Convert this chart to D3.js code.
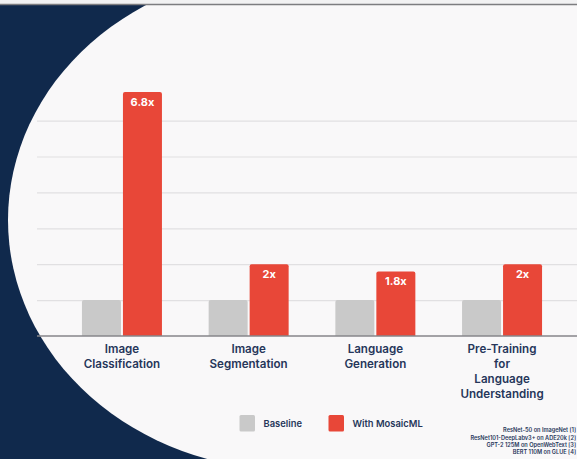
<!DOCTYPE html>
<html>
<head>
<meta charset="utf-8">
<script src="https://cdn.jsdelivr.net/npm/d3@7"></script>
<style>
  html, body { margin: 0; padding: 0; background: #10294c; }
  svg { display: block; }
  text { font-family: Inter, "Open Sans", sans-serif; }
</style>
</head>
<body>
<svg id="chart" width="577" height="459"></svg>
<script>
// Speed-up per workload: baseline vs. MosaicML
const categories = [
  "Image Classification",
  "Image Segmentation",
  "Language Generation",
  "Pre-Training for Language Understanding"
];
const categoryLines = [
  ["Image", "Classification"],
  ["Image", "Segmentation"],
  ["Language", "Generation"],
  ["Pre-Training", "for", "Language", "Understanding"]
];
const seriesNames = ["Baseline", "With MosaicML"];
const baselineValues = [1, 1, 1, 1];
const mosaicValues = [6.8, 2, 1.8, 2];
const valueLabels = ["6.8x", "2x", "1.8x", "2x"];
const gridTicks = [1, 2, 3, 4, 5, 6];
const footnotes = [
  "ResNet-50 on ImageNet [1]",
  "ResNet101-DeepLabv3+ on ADE20k [2]",
  "GPT-2 125M on OpenWebText [3]",
  "BERT 110M on GLUE [4]"
];

const W = 577, H = 459;
const colors = { "Baseline": "#c9c9c9", "With MosaicML": "#e84738" };
const navy = "#10294c", paper = "#f9f8f9", ink = "#26365a";

const svg = d3.select("#chart");

// backdrop: navy panel with a large rounded white sheet over it
svg.append("rect").attr("width", W).attr("height", H).attr("fill", navy);
const ecx = 290, ecy = 220, erx = 282, ery = 250;
svg.append("ellipse")
  .attr("cx", ecx).attr("cy", ecy).attr("rx", erx).attr("ry", ery)
  .attr("fill", paper);
svg.append("rect")
  .attr("x", ecx).attr("y", 0).attr("width", W - ecx).attr("height", H)
  .attr("fill", paper);

// thin strip along the top edge
svg.append("rect").attr("x", 0).attr("y", 0).attr("width", W).attr("height", 4)
  .attr("fill", "#f2f2f3");
svg.append("line").attr("x1", 0).attr("x2", W).attr("y1", 4.5).attr("y2", 4.5)
  .attr("stroke", "#7d7d80").attr("stroke-width", 1.6);

// scales
const plotLeft = 37, plotRight = W;
const x0 = d3.scaleBand().domain(categories).range([58.6, 565.4]).padding(0);
const x1 = d3.scaleBand().domain(seriesNames).range([0, 80]).paddingInner(2 / 41).paddingOuter(0);
const y = d3.scaleLinear().domain([0, 7]).range([336, 84.7]);

// horizontal gridlines
const grid = svg.append("g")
  .attr("transform", `translate(${plotLeft},0)`)
  .call(d3.axisRight(y).tickValues(gridTicks).tickSize(plotRight - plotLeft).tickFormat(""));
grid.select(".domain").remove();
grid.selectAll(".tick line").attr("stroke", "#e1e0e2").attr("stroke-width", 1.2);

// bars
const rows = categories.map((c, i) => ({
  cat: c,
  values: [
    { series: "Baseline", value: baselineValues[i] },
    { series: "With MosaicML", value: mosaicValues[i], label: valueLabels[i] }
  ]
}));

function topRounded(x, yTop, w, h, r) {
  return `M${x},${yTop + h}V${yTop + r}Q${x},${yTop} ${x + r},${yTop}` +
         `H${x + w - r}Q${x + w},${yTop} ${x + w},${yTop + r}V${yTop + h}Z`;
}

const groups = svg.append("g").selectAll("g")
  .data(rows).join("g")
  .attr("transform", d => `translate(${x0(d.cat) + (x0.bandwidth() - 80) / 2},0)`);

groups.selectAll("path")
  .data(d => d.values).join("path")
  .attr("d", d => topRounded(x1(d.series), y(d.value), x1.bandwidth(), y(0) - y(d.value), 2))
  .attr("fill", d => colors[d.series]);

groups.selectAll("text.val")
  .data(d => d.values.filter(v => v.label)).join("text")
  .attr("class", "val")
  .attr("x", d => x1(d.series) + x1.bandwidth() / 2)
  .attr("y", d => y(d.value) + 14)
  .attr("text-anchor", "middle")
  .attr("fill", "#ffffff")
  .attr("font-size", 11)
  .attr("font-weight", 700)
  .text(d => d.label);

// x axis line
svg.append("line")
  .attr("x1", plotLeft).attr("x2", plotRight)
  .attr("y1", y(0)).attr("y2", y(0))
  .attr("stroke", "#86868a").attr("stroke-width", 1.5);

// category labels
const catLabels = svg.append("g").selectAll("text")
  .data(categories).join("text")
  .attr("x", d => x0(d) + x0.bandwidth() / 2)
  .attr("y", 353)
  .attr("text-anchor", "middle")
  .attr("fill", ink)
  .attr("font-size", 11.6)
  .attr("font-weight", 600);
catLabels.each(function (d, i) {
  d3.select(this).selectAll("tspan")
    .data(categoryLines[i]).join("tspan")
    .attr("x", x0(d) + x0.bandwidth() / 2)
    .attr("dy", (t, j) => j === 0 ? 0 : 15)
    .text(t => t);
});

// legend
const legendPos = [239.5, 328.5];
const legend = svg.append("g").selectAll("g")
  .data(seriesNames).join("g")
  .attr("transform", (d, i) => `translate(${legendPos[i]},415)`);
legend.append("rect")
  .attr("width", 15.5).attr("height", 16.5).attr("rx", 1.5)
  .attr("fill", d => colors[d]);
legend.append("text")
  .attr("x", 24).attr("y", 12.2)
  .attr("fill", ink)
  .attr("font-size", 9.4)
  .attr("font-weight", 600)
  .text(d => d);

// source notes, right aligned
svg.append("g").selectAll("text")
  .data(footnotes).join("text")
  .attr("x", 576)
  .attr("y", (d, i) => 432.2 + i * 7.3)
  .attr("text-anchor", "end")
  .attr("fill", ink)
  .attr("font-size", 5.6)
  .attr("font-weight", 600)
  .text(d => d);
</script>
</body>
</html>
